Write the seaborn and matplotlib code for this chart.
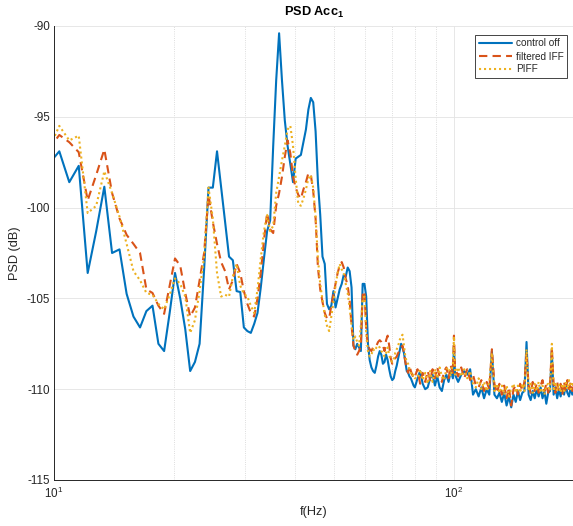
import matplotlib
matplotlib.use("Agg")
import matplotlib.pyplot as plt
import matplotlib.ticker as mticker
import pandas as pd
import seaborn as sns

# frequency bins (Hz): fine up to 80 Hz, coarser above
FREQ_LOW = [
    9.70, 10.31, 10.92, 11.53, 12.14, 12.75, 13.36, 13.97, 14.58, 15.19,
    15.80, 16.41, 17.02, 17.63, 18.24, 18.85, 19.46, 20.07, 20.68, 21.29,
    21.90, 22.51, 23.12, 23.73, 24.34, 24.95, 25.56, 26.17, 26.78, 27.39,
    28.00, 28.61, 29.22, 29.83, 30.44, 31.05, 31.66, 32.27, 32.88, 33.49,
    34.10, 34.71, 35.32, 35.93, 36.54, 37.15, 37.76, 38.37, 38.98, 39.59,
    40.20, 40.81, 41.42, 42.03, 42.64, 43.25, 43.86, 44.47, 45.08, 45.69,
    46.30, 46.91, 47.52, 48.13, 48.74, 49.35, 49.96, 50.57, 51.18, 51.79,
    52.40, 53.01, 53.62, 54.23, 54.84, 55.45, 56.06, 56.67, 57.28, 57.89,
    58.50, 59.11, 59.72, 60.33, 60.94, 61.55, 62.16, 62.77, 63.38, 63.99,
    64.60, 65.21, 65.82, 66.43, 67.04, 67.65, 68.26, 68.87, 69.48, 70.09,
    70.70, 71.31, 71.92, 72.53, 73.14, 73.75, 74.36, 74.97, 75.58, 76.19,
    76.80, 77.41, 78.02, 78.63, 79.24, 79.85,
]
FREQ_MID = [
    81.07, 82.29, 83.51, 84.73, 85.95, 87.17, 88.39, 89.61, 90.83, 92.05,
    93.27, 94.49, 95.71, 96.93, 98.15, 99.37, 99.98,
]
FREQ_HIGH = [
    100.59, 102.42, 104.25, 106.08, 107.91, 109.74, 111.57, 113.40, 115.23, 117.06,
    118.89, 120.72, 122.55, 124.38, 126.21, 128.04, 129.87, 131.70, 133.53, 135.36,
    137.19, 139.02, 140.85, 142.68, 144.51, 146.34, 148.17, 150.00, 151.83, 153.66,
    155.49, 157.32, 159.15, 160.98, 162.81, 164.64, 166.47, 168.30, 170.13, 171.96,
    173.79, 175.62, 177.45, 179.28, 181.11, 182.94, 184.77, 186.60, 188.43, 190.26,
    192.09, 193.92, 195.75, 197.58, 199.41, 201.24,
]

# control off (dB)
OFF_LOW = [
    -97.6, -96.9, -98.6, -97.7, -103.6, -101.3, -98.85, -102.5, -102.3, -104.75,
    -106.0, -106.6, -105.7, -105.4, -107.5, -107.9, -105.8, -103.6, -105.0, -106.7,
    -109.0, -108.5, -107.5, -103.4, -98.9, -98.9, -96.9, -98.85, -100.8, -102.7,
    -102.9, -104.6, -104.65, -106.6, -106.8, -106.9, -106.4, -105.8, -104.4, -102.8,
    -101.3, -100.7, -96.6, -93.0, -90.4, -93.0, -95.2, -96.6, -97.6, -98.6,
    -97.3, -97.2, -97.1, -96.4, -95.7, -94.6, -93.96, -94.2, -95.8, -98.6,
    -100.4, -102.7, -103.1, -105.3, -105.6, -105.4, -104.6, -105.5, -105.0, -104.5,
    -104.2, -103.7, -103.8, -103.3, -103.5, -104.4, -107.6, -107.8, -107.5, -107.7,
    -107.9, -104.2, -104.2, -104.9, -107.5, -108.4, -108.8, -109.0, -109.1, -108.7,
    -108.2, -107.9, -108.1, -108.6, -108.5, -108.1, -108.4, -108.9, -109.3, -109.5,
    -109.4, -109.0, -108.7, -108.3, -107.9, -107.5, -107.7, -108.0, -108.5, -109.0,
    -109.1, -109.3, -109.4, -109.6, -109.8, -109.9,
]
OFF_MID = [
    -109.4, -109.0, -109.7, -110.0, -109.9, -109.4, -109.2, -109.8, -109.3, -109.9,
    -110.1, -109.5, -109.2, -109.6, -109.0, -109.4, -107.6,
]
OFF_HIGH = [
    -109.2, -109.6, -109.2, -109.0, -109.2, -108.9, -110.3, -110.0, -110.4, -109.9,
    -110.5, -110.0, -110.3, -107.9, -110.3, -110.5, -110.2, -110.7, -110.2, -110.9,
    -110.4, -111.0, -110.3, -110.7, -110.1, -110.6, -110.2, -110.1, -107.4, -110.3,
    -110.6, -110.1, -110.5, -110.0, -110.4, -109.9, -110.5, -110.1, -110.8, -110.2,
    -110.1, -107.9, -110.3, -109.9, -110.5, -110.0, -110.4, -109.9, -110.3, -109.8,
    -110.2, -110.4, -109.9, -110.3, -110.0, -110.1,
]

# filtered IFF (dB)
IFF_LOW = [
    -96.8, -96.0, -96.4, -96.95, -99.6, -98.2, -96.8, -99.2, -100.6, -101.5,
    -102.0, -102.5, -104.5, -104.7, -105.4, -105.85, -104.3, -102.8, -103.2, -104.7,
    -106.0, -105.5, -104.0, -102.5, -99.3, -100.8, -102.0, -103.0, -103.5, -104.5,
    -104.0, -103.1, -103.6, -104.6, -105.3, -105.8, -106.0, -105.0, -103.6, -101.8,
    -100.3, -101.2, -101.4, -99.9, -99.2, -98.3, -97.2, -96.3, -97.0, -98.3,
    -98.9, -99.3, -99.5, -99.0, -98.6, -98.1, -98.2, -99.1, -100.6, -103.3,
    -104.5, -105.2, -105.8, -106.1, -106.1, -105.4, -104.8, -104.2, -103.6, -103.2,
    -103.0, -103.3, -103.9, -104.3, -105.1, -106.5, -107.6, -107.9, -108.1, -107.9,
    -107.6, -104.8, -104.6, -106.7, -107.6, -107.8, -107.9, -107.7, -107.6, -107.6,
    -107.4, -107.3, -107.4, -107.6, -107.9, -107.3, -107.05, -107.6, -108.3, -108.6,
    -108.4, -108.3, -108.2, -108.0, -107.9, -107.7, -107.6, -108.0, -108.5, -108.9,
    -109.1, -108.7, -109.0, -109.2, -109.4, -109.3,
]
IFF_MID = [
    -108.9, -109.7, -109.1, -109.6, -109.0, -109.5, -108.9, -109.4, -108.8, -109.3,
    -109.6, -109.0, -108.8, -109.4, -108.7, -109.1, -107.05,
]
IFF_HIGH = [
    -108.8, -109.3, -108.8, -109.4, -108.9, -109.5, -109.2, -109.8, -109.9, -109.5,
    -110.1, -109.6, -110.0, -107.8, -109.7, -110.2, -109.7, -110.3, -109.8, -110.5,
    -109.9, -110.9, -110.0, -109.8, -110.3, -109.7, -110.1, -109.6, -108.0, -109.8,
    -110.2, -109.6, -110.1, -109.7, -110.2, -109.8, -109.5, -110.1, -109.7, -110.2,
    -109.8, -107.7, -109.7, -110.2, -109.6, -110.1, -109.7, -110.3, -109.6, -110.1,
    -109.5, -110.0, -109.6, -110.1, -109.7, -109.9,
]

# PIFF (dB)
PIFF_LOW = [
    -96.8, -95.5, -96.3, -96.04, -100.3, -99.9, -98.0, -99.2, -100.5, -102.0,
    -103.5, -104.0, -104.7, -104.8, -105.3, -105.6, -104.8, -103.9, -104.2, -104.9,
    -106.9, -106.2, -104.6, -102.7, -98.9, -100.6, -103.6, -104.9, -104.8, -104.9,
    -103.8, -103.1, -104.3, -104.75, -104.9, -105.4, -105.8, -104.5, -102.8, -101.3,
    -100.4, -101.3, -101.0, -99.2, -98.3, -97.4, -96.6, -95.7, -95.5, -96.6,
    -98.4, -99.8, -99.9, -99.5, -99.0, -98.4, -98.2, -98.9, -100.5, -102.8,
    -104.2, -105.1, -105.9, -106.5, -106.8, -106.0, -105.2, -104.3, -103.6, -103.1,
    -103.4, -103.6, -104.2, -104.7, -105.5, -106.5, -107.3, -107.1, -107.4, -107.6,
    -106.5, -105.0, -104.9, -106.9, -107.9, -108.2, -108.1, -107.8, -107.9, -107.7,
    -107.6, -107.7, -107.9, -108.0, -108.2, -108.0, -107.7, -108.1, -108.4, -108.5,
    -108.4, -108.0, -107.8, -107.6, -107.3, -107.1, -107.0, -107.6, -108.2, -108.5,
    -108.6, -108.9, -109.1, -109.3, -109.2, -109.4,
]
PIFF_MID = [
    -109.4, -108.9, -109.5, -109.1, -109.7, -109.0, -109.6, -108.9, -109.4, -108.8,
    -109.3, -109.5, -108.9, -108.8, -109.3, -108.6, -107.1,
]
PIFF_HIGH = [
    -109.2, -108.8, -109.3, -108.9, -109.4, -109.0, -109.7, -109.9, -109.4, -110.0,
    -109.6, -110.1, -109.6, -108.0, -110.1, -109.7, -110.2, -109.8, -110.3, -109.8,
    -110.4, -110.0, -109.7, -110.2, -109.8, -110.2, -109.7, -110.1, -107.8, -110.1,
    -109.7, -110.2, -109.7, -110.1, -109.6, -110.2, -109.8, -110.3, -109.8, -109.7,
    -110.1, -107.5, -110.1, -109.6, -110.1, -109.7, -110.2, -109.7, -110.1, -109.6,
    -110.0, -109.5, -110.0, -109.6, -110.0, -109.7,
]

LABELS = ["control off", "filtered IFF", "PIFF"]
COLORS = ["#0072BD", "#D95319", "#EDB120"]
STYLES = ["-", (0, (4, 2.5)), (0, (1, 1.4))]
Y_TICKS = [-115, -110, -105, -100, -95, -90]
X_MINOR = [20, 30, 40, 50, 60, 70, 80, 90, 200]

df = pd.DataFrame({
    "f": FREQ_LOW + FREQ_MID + FREQ_HIGH,
    "control off": OFF_LOW + OFF_MID + OFF_HIGH,
    "filtered IFF": IFF_LOW + IFF_MID + IFF_HIGH,
    "PIFF": PIFF_LOW + PIFF_MID + PIFF_HIGH,
})

sns.set_theme(style="white")
plt.rcParams["font.family"] = ["Liberation Sans", "DejaVu Sans"]
plt.rcParams["mathtext.fontset"] = "custom"
plt.rcParams["mathtext.rm"] = "Liberation Sans"
plt.rcParams["mathtext.bf"] = "Liberation Sans:bold"
plt.rcParams["axes.unicode_minus"] = False

fig = plt.figure(figsize=(5.73, 5.26), dpi=100)
ax = fig.add_axes([54 / 573, 46 / 526, 520.4 / 573, 454 / 526])

for name, color, ls in zip(LABELS, COLORS, STYLES):
    sns.lineplot(data=df, x="f", y=name, ax=ax, color=color, linestyle=ls,
                 linewidth=1.5, label=name, estimator=None)

ax.set_xscale("log")
ax.set_xlim(10, 200)
ax.set_ylim(-115, -90)
ax.xaxis.set_major_locator(mticker.FixedLocator([10, 100]))
ax.xaxis.set_major_formatter(mticker.LogFormatterMathtext())
ax.xaxis.set_minor_locator(mticker.FixedLocator(X_MINOR))
ax.xaxis.set_minor_formatter(mticker.NullFormatter())
ax.set_yticks(Y_TICKS)

ax.set_axisbelow(True)
ax.grid(True, which="major", color="#e3e3e3", linewidth=0.6, linestyle="-")
ax.xaxis.grid(True, which="minor", color="#d2d2d2", linewidth=0.6, linestyle=":")

for side in ["top", "right"]:
    ax.spines[side].set_visible(False)
for side in ["left", "bottom"]:
    ax.spines[side].set_color("#262626")
    ax.spines[side].set_linewidth(0.7)

ax.tick_params(axis="both", which="major", direction="in", length=4, width=0.6,
               colors="#262626", labelsize=8.4, pad=3)
ax.tick_params(axis="x", which="minor", direction="in", length=2.5, width=0.5,
               colors="#262626")
ax.tick_params(axis="x", which="major", pad=4)

ax.set_xlabel("f(Hz)", fontsize=9.2, color="#262626", labelpad=4)
ax.set_ylabel("PSD (dB)", fontsize=9.2, color="#262626", labelpad=4)
ax.set_title(r"PSD Acc$_\mathbf{1}$", fontsize=9.2, fontweight="bold",
             color="black", pad=7)

leg = ax.legend(loc="upper right", bbox_to_anchor=(567 / 573, 1 - 35 / 526),
                bbox_transform=fig.transFigure, fontsize=7.2, frameon=True,
                fancybox=False, edgecolor="#262626", framealpha=1,
                handlelength=3.3, handletextpad=0.4, labelspacing=0.3,
                borderpad=0.35, borderaxespad=0)
leg.get_frame().set_linewidth(0.6)

fig.savefig("out.png", dpi=100)
